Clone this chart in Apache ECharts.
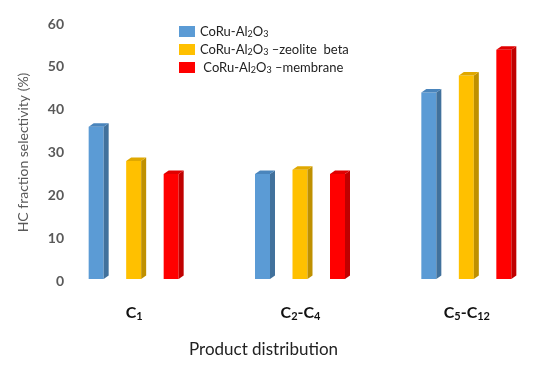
<!DOCTYPE html>
<html>
<head>
<meta charset="utf-8">
<script src="https://cdn.jsdelivr.net/npm/echarts@6/dist/echarts.min.js"></script>
<style>html,body{margin:0;padding:0;background:#fff}#c{width:550px;height:369px}</style>
</head>
<body>
<div id="c"></div>
<script>
var categories = ['C1', 'C2-C4', 'C5-C12'];
var categoryLabels = ['{b|C}{s|1}', '{b|C}{s|2}{b|-C}{s|4}', '{b|C}{s|5}{b|-C}{s|12}'];
var seriesNames = ['CoRu-Al2O3', 'CoRu-Al2O3 -zeolite beta', 'CoRu-Al2O3 -membrane'];
var legendLabels = ['CoRu-Al{s|2}O{s|3}', 'CoRu-Al{s|2}O{s|3} \u2013zeolite  beta', ' CoRu-Al{s|2}O{s|3} \u2013membrane'];
var blueValues = [36, 25, 44];
var yellowValues = [28, 26, 48];
var redValues = [25, 25, 54];
var yTicks = [0, 10, 20, 30, 40, 50, 60];

var frontColors = ['#5B9BD5', '#FFC000', '#FF0000'];
var sideColors = ['#41719C', '#BF9000', '#C00000'];
var topColors = ['#4A85BC', '#E0A800', '#E00000'];
var allValues = [blueValues, yellowValues, redValues];

function makeRender(si) {
  return function (params, api) {
    var ci = api.value(0);
    var v = api.value(1);
    var base = api.coord([ci, 0]);
    var top = api.coord([ci, v]);
    var w = 15, d = 5, h = 3.5;
    var x0 = base[0] + (si - 1) * 37.5 - 8;
    var yb = base[1] - 2;
    var yt = top[1];
    return {
      type: 'group',
      children: [
        {type: 'rect', shape: {x: x0, y: yt, width: w, height: yb - yt}, style: {fill: frontColors[si]}},
        {type: 'polygon', shape: {points: [[x0 + w, yt], [x0 + w + d, yt - h], [x0 + w + d, yb - h], [x0 + w, yb]]}, style: {fill: sideColors[si]}},
        {type: 'polygon', shape: {points: [[x0, yt], [x0 + d, yt - h], [x0 + w + d, yt - h], [x0 + w, yt]]}, style: {fill: topColors[si]}}
      ]
    };
  };
}

var chart = echarts.init(document.getElementById('c'));
var series = [0, 1, 2].map(function (si) {
  return {
    type: 'custom',
    name: seriesNames[si],
    itemStyle: {color: frontColors[si]},
    renderItem: makeRender(si),
    encode: {x: 0, y: 1},
    data: allValues[si].map(function (v, i) { return [i, v]; })
  };
});

chart.setOption({
  animation: false,
  backgroundColor: '#fff',
  title: {
    text: 'Product distribution',
    left: 184, top: 336,
    textStyle: {fontFamily: 'Lato', fontSize: 17, fontWeight: 'normal', color: '#222'}
  },
  legend: {
    orient: 'vertical',
    left: 174, top: 20,
    itemWidth: 16, itemHeight: 11, itemGap: 4,
    icon: 'rect',
    data: seriesNames,
    formatter: function (name) { return legendLabels[seriesNames.indexOf(name)]; },
    textStyle: {
      fontFamily: 'Lato', fontSize: 13, color: '#222',
      rich: {s: {fontFamily: 'Lato', fontSize: 9, color: '#222', verticalAlign: 'bottom', padding: [6, 0, 0, 0]}}
    }
  },
  grid: {left: 51, right: -12, top: 24, bottom: 88},
  xAxis: {
    type: 'category',
    data: categories,
    axisLine: {show: false},
    axisTick: {show: false},
    axisLabel: {
      margin: 22,
      formatter: function (val, idx) { return categoryLabels[idx]; },
      rich: {
        b: {fontFamily: 'Lato', fontSize: 16, fontWeight: 'bold', color: '#111'},
        s: {fontFamily: 'Lato', fontSize: 11, fontWeight: 'bold', color: '#111', padding: [8, 0, 0, 0]}
      }
    }
  },
  yAxis: {
    type: 'value',
    min: yTicks[0], max: yTicks[yTicks.length - 1], interval: 10,
    offset: -21,
    splitLine: {show: false},
    axisLine: {show: false},
    axisTick: {show: false},
    axisLabel: {fontFamily: 'Lato', fontSize: 14, fontWeight: 'bold', color: '#595959', margin: 8},
    name: 'HC fraction selectivity (%)',
    nameLocation: 'middle',
    nameGap: 42,
    nameTextStyle: {fontFamily: 'Lato', fontSize: 14, color: '#595959'}
  },
  series: series
});
</script>
</body>
</html>
